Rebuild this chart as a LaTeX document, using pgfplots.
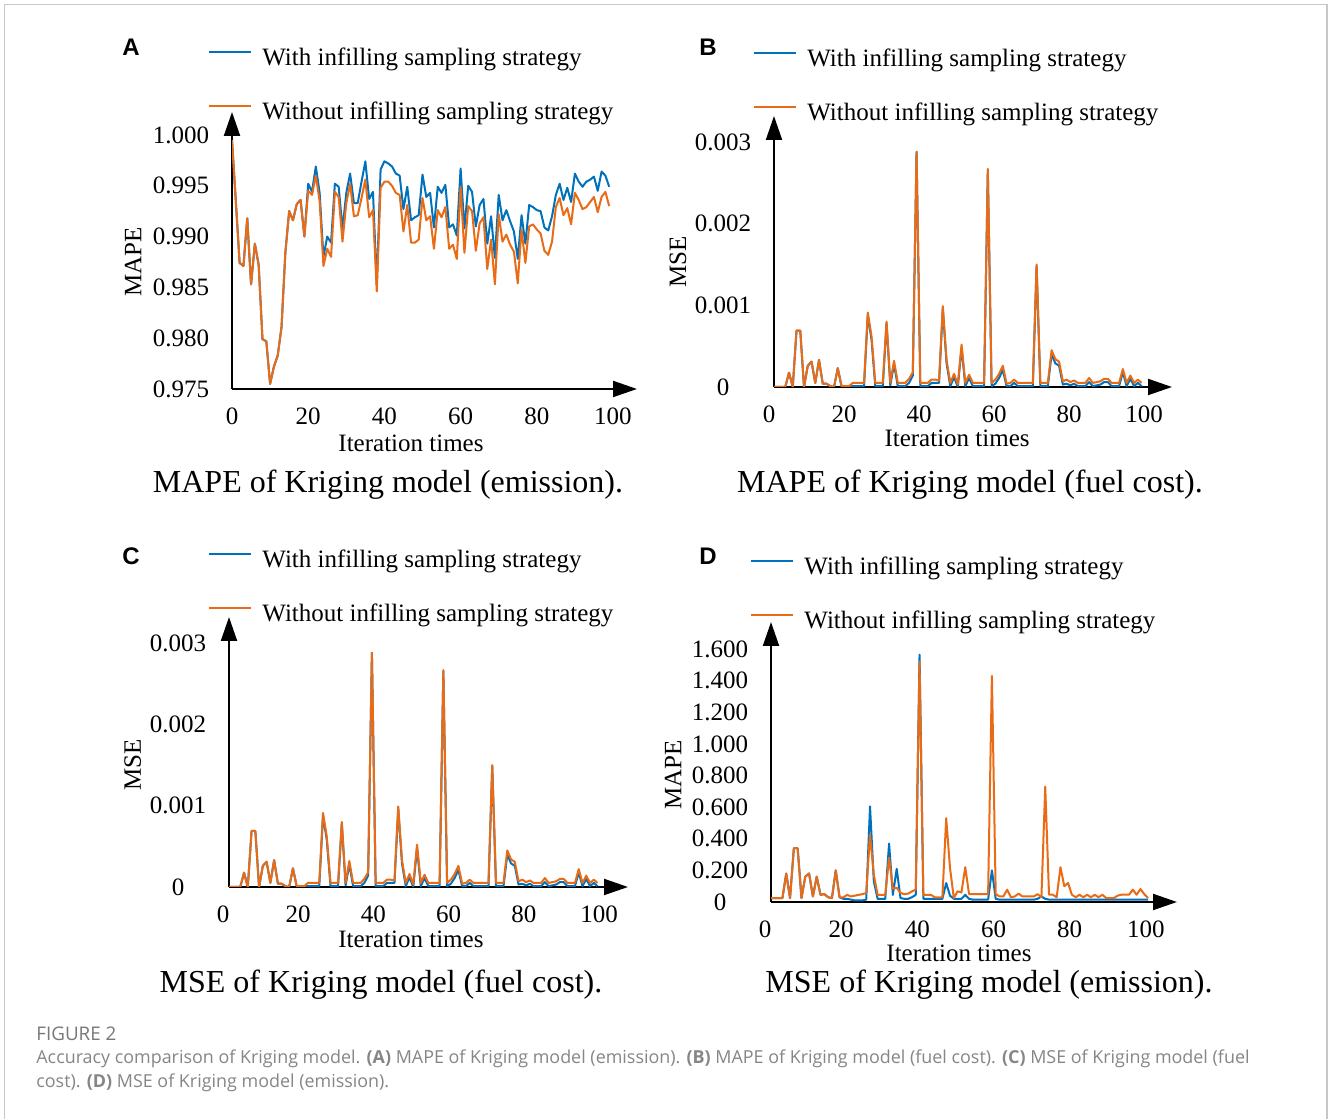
\documentclass[border=0pt]{standalone}
\usepackage{fontspec}
\setmainfont{Liberation Serif}
\newfontfamily\capfont{Open Sans}
\newfontfamily\letterfont{Liberation Sans}
\usepackage{pgfplots}
\pgfplotsset{compat=1.18}
\usepackage{pgfplotstable}
\usetikzlibrary{arrows.meta}
\definecolor{myblue}{RGB}{0,114,189}
\definecolor{myorange}{RGB}{234,107,22}
\definecolor{capgray}{RGB}{120,120,120}

\pgfplotstableread{
x o b
0 0.9995 0.9995
1 0.9935 0.9935
2 0.9874 0.9874
3 0.9871 0.9871
4 0.9918 0.9918
5 0.9853 0.9853
6 0.9893 0.9893
7 0.9872 0.9872
8 0.9799 0.9799
9 0.9797 0.9797
10 0.9755 0.9755
11 0.9772 0.9772
12 0.9783 0.9783
13 0.9811 0.9811
14 0.9884 0.9884
15 0.9925 0.9925
16 0.9916 0.9916
17 0.9932 0.9932
18 0.9936 0.9936
19 0.9900 0.9900
20 0.9945 0.9952
21 0.9941 0.9944
22 0.9960 0.9969
23 0.9935 0.9943
24 0.9871 0.9880
25 0.9888 0.9900
26 0.9880 0.9894
27 0.9944 0.9952
28 0.9939 0.9949
29 0.9895 0.9907
30 0.9933 0.9943
31 0.9952 0.9962
32 0.9920 0.9933
33 0.9921 0.9933
34 0.9938 0.9954
35 0.9956 0.9974
36 0.9919 0.9937
37 0.9926 0.9944
38 0.9846 0.9852
39 0.9948 0.9966
40 0.9954 0.9974
41 0.9954 0.9972
42 0.9950 0.9969
43 0.9943 0.9962
44 0.9941 0.9960
45 0.9905 0.9927
46 0.9931 0.9949
47 0.9894 0.9916
48 0.9894 0.9919
49 0.9897 0.9921
50 0.9938 0.9961
51 0.9916 0.9939
52 0.9920 0.9943
53 0.9888 0.9909
54 0.9926 0.9949
55 0.9919 0.9943
56 0.9929 0.9951
57 0.9888 0.9909
58 0.9892 0.9912
59 0.9878 0.9901
60 0.9949 0.9967
61 0.9884 0.9908
62 0.9930 0.9950
63 0.9925 0.9944
64 0.9886 0.9910
65 0.9913 0.9931
66 0.9919 0.9937
67 0.9868 0.9893
68 0.9897 0.9920
69 0.9853 0.9879
70 0.9922 0.9941
71 0.9895 0.9916
72 0.9902 0.9926
73 0.9892 0.9915
74 0.9885 0.9905
75 0.9854 0.9878
76 0.9907 0.9921
77 0.9874 0.9893
78 0.9910 0.9931
79 0.9912 0.9929
80 0.9907 0.9926
81 0.9903 0.9925
82 0.9886 0.9909
83 0.9882 0.9906
84 0.9895 0.9920
85 0.9929 0.9941
86 0.9938 0.9952
87 0.9921 0.9936
88 0.9928 0.9948
89 0.9912 0.9934
90 0.9943 0.9962
91 0.9936 0.9954
92 0.9927 0.9949
93 0.9929 0.9954
94 0.9934 0.9956
95 0.9939 0.9959
96 0.9924 0.9945
97 0.9939 0.9964
98 0.9944 0.9960
99 0.9930 0.9949
}\tableA

\pgfplotstableread{
x o b
0 0 0
1 0 0
2 0 0
3 0 0
4 0.000176 0.000176
5 0 0
6 0.00069 0.00069
7 0.00069 0.00069
8 0 0
9 0.00026 0.00026
10 0.00031 0.00031
11 0.00005 0.00005
12 0.00033 0.00033
13 0.00004 0.00004
14 0.00004 0.00004
15 0.00001 0.00001
16 0 0
17 0.00023 0.00023
18 0.00001 0.00001
19 0.00001 0.00001
20 0.00001 0.00001
21 0.00005 0.00001
22 0.00005 0.00001
23 0.00005 0.00001
24 0.00005 0.00001
25 0.00091 0.00088
26 0.00062 0.00058
27 0.00005 0.00001
28 0.00005 0.00001
29 0.00005 0.00001
30 0.00080 0.00078
31 0.00005 0.00002
32 0.00032 0.00028
33 0.00005 0.00001
34 0.00005 0.00001
35 0.00005 0.00001
36 0.00010 0.00005
37 0.00018 0.00014
38 0.00288 0.00288
39 0.00005 0.00001
40 0.00005 0.00001
41 0.00005 0.00001
42 0.00009 0.00005
43 0.00009 0.00005
44 0.00008 0.00005
45 0.00099 0.00096
46 0.00033 0.00029
47 0.00005 0.00001
48 0.00016 0.00012
49 0.00003 0.00000
50 0.00052 0.00048
51 0.00005 0.00001
52 0.00015 0.00011
53 0.00005 0.00001
54 0.00005 0.00001
55 0.00005 0.00001
56 0.00005 0.00001
57 0.00267 0.00265
58 0.00005 0.00001
59 0.00009 0.00004
60 0.00016 0.00011
61 0.00026 0.00021
62 0.00004 0.00001
63 0.00005 0.00001
64 0.00009 0.00005
65 0.00005 0.00001
66 0.00005 0.00001
67 0.00005 0.00001
68 0.00005 0.00001
69 0.00005 0.00001
70 0.00150 0.00148
71 0.00005 0.00001
72 0.00005 0.00001
73 0.00005 0.00001
74 0.00045 0.00040
75 0.00034 0.00029
76 0.00031 0.00026
77 0.00007 0.00003
78 0.00009 0.00004
79 0.00006 0.00002
80 0.00008 0.00004
81 0.00005 0.00001
82 0.00005 0.00001
83 0.00005 0.00001
84 0.00011 0.00006
85 0.00005 0.00001
86 0.00006 0.00002
87 0.00007 0.00003
88 0.00010 0.00006
89 0.00010 0.00006
90 0.00005 0.00001
91 0.00005 0.00001
92 0.00005 0.00001
93 0.00022 0.00018
94 0.00005 0.00001
95 0.00014 0.00010
96 0.00005 0.00001
97 0.00009 0.00005
98 0.00005 0.00001
}\tableB

\pgfplotstableread{
x o b
0 0.025 0.025
1 0.025 0.025
2 0.025 0.025
3 0.025 0.025
4 0.18 0.18
5 0.025 0.025
6 0.34 0.34
7 0.34 0.34
8 0.025 0.025
9 0.16 0.16
10 0.18 0.18
11 0.035 0.035
12 0.16 0.16
13 0.045 0.045
14 0.05 0.05
15 0.03 0.03
16 0.025 0.025
17 0.20 0.20
18 0.03 0.03
19 0.03 0.02
20 0.045 0.02
21 0.035 0.015
22 0.04 0.01
23 0.045 0.01
24 0.05 0.01
25 0.057 0.015
26 0.426 0.605
27 0.17 0.13
28 0.045 0.02
29 0.045 0.02
30 0.045 0.02
31 0.28 0.37
32 0.084 0.045
33 0.09 0.21
34 0.057 0.025
35 0.05 0.02
36 0.053 0.02
37 0.067 0.03
38 0.078 0.045
39 1.52 1.565
40 0.045 0.02
41 0.045 0.02
42 0.045 0.02
43 0.03 0.02
44 0.03 0.02
45 0.03 0.02
46 0.53 0.12
47 0.215 0.04
48 0.025 0.02
49 0.068 0.02
50 0.06 0.02
51 0.22 0.045
52 0.05 0.02
53 0.05 0.015
54 0.05 0.015
55 0.05 0.015
56 0.05 0.015
57 0.05 0.015
58 1.43 0.20
59 0.05 0.02
60 0.035 0.015
61 0.035 0.015
62 0.078 0.015
63 0.03 0.015
64 0.035 0.015
65 0.053 0.015
66 0.035 0.015
67 0.035 0.015
68 0.035 0.015
69 0.035 0.015
70 0.05 0.02
71 0.03 0.035
72 0.73 0.02
73 0.046 0.015
74 0.046 0.015
75 0.03 0.015
76 0.22 0.015
77 0.10 0.015
78 0.12 0.015
79 0.046 0.015
80 0.03 0.015
81 0.046 0.015
82 0.03 0.015
83 0.046 0.015
84 0.03 0.015
85 0.046 0.015
86 0.03 0.015
87 0.046 0.015
88 0.025 0.015
89 0.025 0.015
90 0.025 0.015
91 0.04 0.015
92 0.046 0.015
93 0.046 0.015
94 0.046 0.015
95 0.078 0.015
96 0.046 0.015
97 0.082 0.015
98 0.05 0.015
99 0.025 0.015
}\tableD

\pgfplotsset{
  panel/.style={
    scale only axis, axis lines=left,
    anchor=south west,
    axis line style={line width=1pt, black},
    x axis line style={-{Triangle[length=12pt,width=8pt]}},
    y axis line style={-{Triangle[length=12pt,width=8pt]}},
    major tick length=0pt, minor tick num=0,
    scaled y ticks=false, scaled x ticks=false,
    tick label style={font=\fontsize{12.5}{15}\selectfont, inner sep=0pt},
    yticklabel style={anchor=center, xshift=-25.5pt},
    xticklabel style={yshift=-9pt},
    label style={font=\fontsize{12.5}{15}\selectfont},
    xlabel={Iteration times},
    xmin=0,
    xtick={0,20,40,60,80,100},
    xticklabels={0,20,40,60,80,100},
    legend style={draw=none, fill=none, inner sep=0pt, anchor=north west,
      font=\fontsize{12.5}{15}\selectfont,
      nodes={inner sep=0pt, text height=9pt, text depth=3pt},
      row sep=15pt, column sep=5pt},
    legend cell align=left,
    legend image code/.code={\draw[##1, line width=1pt] (0pt,3.5pt) -- (21pt,3.5pt);},
  },
  bl/.style={myblue, line width=1pt, line join=round},
  or/.style={myorange, line width=1pt, line join=round},
}

\begin{document}
\begin{tikzpicture}
\useasboundingbox (0,0) rectangle (664pt,559.5pt);
\fill[white] (0,0) rectangle (664pt,559.5pt);
\draw[black!22, line width=0.7pt] (2.25pt,-5pt) -- (2.25pt,557.25pt) -- (663.4pt,557.25pt) -- (663.4pt,-5pt);

% Panel A
\begin{axis}[panel, at={(116pt,365pt)}, width=202.5pt, height=138.5pt,
  xmax=106.3, ymin=0.975, ymax=1.00226,
  ytick={0.975,0.98,0.985,0.99,0.995,1.0},
  yticklabels={0.975,0.980,0.985,0.990,0.995,1.000},
  ylabel={MAPE},
  xlabel style={at={(axis description cs:0.442,-0.195)}, anchor=center},
  ylabel style={at={(axis description cs:-0.244,0.458)}, anchor=center},
  legend style={at={(axis description cs:-0.0593,1.2347)}}]
\addplot[bl] table[x=x,y=b] {\tableA};
\addlegendentry{With infilling sampling strategy}
\addplot[or] table[x=x,y=o] {\tableA};
\addlegendentry{Without infilling sampling strategy}
\end{axis}

% Panel B
\begin{axis}[panel, at={(387pt,366pt)}, width=199pt, height=135.5pt,
  xmax=106.1, ymin=0, ymax=0.003318,
  xticklabel style={xshift=-2.5pt},
  ytick={0,0.001,0.002,0.003},
  yticklabels={0,0.001,0.002,0.003},
  ylabel={MSE},
  xlabel style={at={(axis description cs:0.460,-0.188)}, anchor=center},
  ylabel style={at={(axis description cs:-0.241,0.461)}, anchor=center},
  legend style={at={(axis description cs:-0.0528,1.251)}}]
\addplot[bl] table[x=x,y=b] {\tableB};
\addlegendentry{With infilling sampling strategy}
\addplot[or] table[x=x,y=o] {\tableB};
\addlegendentry{Without infilling sampling strategy}
\end{axis}

% Panel C
\begin{axis}[panel, at={(114.5pt,116pt)}, width=199.5pt, height=135pt,
  xmax=106.1, ymin=0, ymax=0.003321,
  xticklabel style={xshift=-3pt},
  ytick={0,0.001,0.002,0.003},
  yticklabels={0,0.001,0.002,0.003},
  ylabel={MSE},
  xlabel style={at={(axis description cs:0.456,-0.193)}, anchor=center},
  ylabel style={at={(axis description cs:-0.241,0.452)}, anchor=center},
  legend style={at={(axis description cs:-0.0526,1.252)}}]
\addplot[bl] table[x=x,y=b] {\tableB};
\addlegendentry{With infilling sampling strategy}
\addplot[or] table[x=x,y=o] {\tableB};
\addlegendentry{Without infilling sampling strategy}
\end{axis}

% Panel D
\begin{axis}[panel, at={(385.5pt,108.5pt)}, width=203pt, height=140pt,
  xmax=106.6, ymin=0, ymax=1.771,
  xticklabel style={xshift=-3pt},
  ytick={0,0.2,0.4,0.6,0.8,1.0,1.2,1.4,1.6},
  yticklabels={0,0.200,0.400,0.600,0.800,1.000,1.200,1.400,1.600},
  ylabel={MAPE},
  xlabel style={at={(axis description cs:0.463,-0.182)}, anchor=center},
  ylabel style={at={(axis description cs:-0.241,0.454)}, anchor=center},
  legend style={at={(axis description cs:-0.0517,1.236)}}]
\addplot[bl] table[x=x,y=b] {\tableD};
\addlegendentry{With infilling sampling strategy}
\addplot[or] table[x=x,y=o] {\tableD};
\addlegendentry{Without infilling sampling strategy}
\end{axis}

% panel letters
\node[font=\letterfont\bfseries\fontsize{12}{14}\selectfont] at (65.5pt,536pt) {A};
\node[font=\letterfont\bfseries\fontsize{12}{14}\selectfont] at (354pt,536pt) {B};
\node[font=\letterfont\bfseries\fontsize{12}{14}\selectfont] at (65.5pt,281.5pt) {C};
\node[font=\letterfont\bfseries\fontsize{12}{14}\selectfont] at (354pt,281.5pt) {D};

% subtitles
\node[anchor=base, font=\fontsize{16}{19}\selectfont, inner sep=0pt] at (194pt,313pt) {MAPE of Kriging model (emission).};
\node[anchor=base, font=\fontsize{16}{19}\selectfont, inner sep=0pt] at (485pt,313pt) {MAPE of Kriging model (fuel cost).};
\node[anchor=base, font=\fontsize{16}{19}\selectfont, inner sep=0pt] at (190.5pt,63pt) {MSE of Kriging model (fuel cost).};
\node[anchor=base, font=\fontsize{16}{19}\selectfont, inner sep=0pt] at (494.5pt,63pt) {MSE of Kriging model (emission).};

% caption
\node[anchor=base west, inner sep=0pt, text=capgray, font=\capfont\fontsize{9.4}{11}\selectfont] at (18pt,39pt) {FIGURE 2};
\node[anchor=base west, inner sep=0pt, text=capgray!90, font=\capfont\fontsize{8.95}{11}\selectfont] at (18pt,27.5pt) {Accuracy comparison of Kriging model. \textbf{(A)} MAPE of Kriging model (emission). \textbf{(B)} MAPE of Kriging model (fuel cost). \textbf{(C)} MSE of Kriging model (fuel};
\node[anchor=base west, inner sep=0pt, text=capgray!90, font=\capfont\fontsize{8.95}{11}\selectfont] at (18pt,15.5pt) {cost). \textbf{(D)} MSE of Kriging model (emission).};
\end{tikzpicture}
\end{document}
